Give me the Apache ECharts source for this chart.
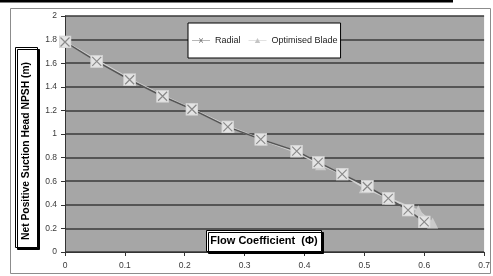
<!DOCTYPE html>
<html><head><meta charset="utf-8">
<script src="https://cdn.jsdelivr.net/npm/echarts@6/dist/echarts.min.js"></script>
<style>html,body{margin:0;padding:0;background:#fff}#c{width:493px;height:276px}</style>
</head><body><div id="c"></div>
<script>
const xTicks = [0, 0.1, 0.2, 0.3, 0.4, 0.5, 0.6, 0.7];
const yTicks = [0, 0.2, 0.4, 0.6, 0.8, 1, 1.2, 1.4, 1.6, 1.8, 2];
const radialX = [0, 0.053, 0.108, 0.163, 0.212, 0.272, 0.327, 0.387, 0.423, 0.463, 0.505, 0.54, 0.573, 0.6];
const radialY = [1.78, 1.615, 1.46, 1.32, 1.21, 1.06, 0.955, 0.855, 0.76, 0.66, 0.555, 0.455, 0.355, 0.255];
const optX = [0, 0.055, 0.11, 0.165, 0.212, 0.275, 0.33, 0.385, 0.427, 0.463, 0.5, 0.543, 0.59, 0.614];
const optY = [1.78, 1.62, 1.46, 1.32, 1.21, 1.06, 0.95, 0.85, 0.74, 0.66, 0.545, 0.45, 0.35, 0.245];
const seriesNames = ['Radial', 'Optimised Blade'];
const xTitle = 'Flow Coefficient  (\u03A6)';
const yTitle = 'Net Positive Suction Head NPSH (m)';

const svg = "<svg xmlns='http://www.w3.org/2000/svg' width='13' height='13'><rect x='0.5' y='0.5' width='12' height='12' fill='#e4e4e4' stroke='#d0d0d0'/><path d='M2,2L11,11M11,2L2,11' stroke='#8a8a8a' stroke-width='1.2'/></svg>";
const xSymbol = 'image://data:image/svg+xml;charset=utf-8,' + encodeURIComponent(svg);

const chart = echarts.init(document.getElementById('c'), null, {renderer: 'canvas'});
const font = 'Arial, "Liberation Sans", sans-serif';
chart.setOption({
  animation: false,
  backgroundColor: '#fff',
  grid: {left: 65, right: 8, top: 16, bottom: 24, show: true, backgroundColor: '#a6a6a6', borderWidth: 0},
  xAxis: {
    type: 'value', min: xTicks[0], max: xTicks[xTicks.length - 1], interval: 0.1,
    axisLine: {show: true, onZero: false, lineStyle: {color: '#333', width: 1}},
    axisTick: {show: true, length: 4, lineStyle: {color: '#333'}},
    axisLabel: {color: '#3a3a3a', fontSize: 8.5, fontFamily: font, margin: 9},
    splitLine: {show: false}
  },
  yAxis: {
    type: 'value', min: yTicks[0], max: yTicks[yTicks.length - 1], interval: 0.2,
    axisLine: {show: true, lineStyle: {color: '#333', width: 1}},
    axisTick: {show: true, length: 4, lineStyle: {color: '#333'}},
    axisLabel: {color: '#3a3a3a', fontSize: 8.5, fontFamily: font, margin: 8},
    splitLine: {show: true, lineStyle: {color: '#3a3a3a', width: 1.5}}
  },
  legend: {
    left: 188, top: 23, orient: 'horizontal',
    backgroundColor: '#fff', borderColor: '#000', borderWidth: 1,
    padding: [13, 3, 13, 4], itemGap: 8, itemWidth: 18, itemHeight: 8,
    textStyle: {fontSize: 9, fontFamily: font, color: '#222'},
    data: [
      {name: seriesNames[0], icon: 'path://M0,4.5L30,4.5L30,5.5L0,5.5Z M11.6,1.6L12.4,0.8L18.4,8.4L17.6,9.2Z M17.6,0.8L18.4,1.6L12.4,9.2L11.6,8.4Z', itemStyle: {color: '#707070'}},
      {name: seriesNames[1], icon: 'path://M0,4.5L30,4.5L30,5.5L0,5.5Z M15,0.5L19.5,8.5L10.5,8.5Z', itemStyle: {color: '#c4c4c4'}}
    ]
  },
  series: [
    {
      name: seriesNames[1], type: 'line', z: 2,
      data: optX.map((x, i) => [x, optY[i]]),
      symbol: 'triangle', symbolSize: 11,
      itemStyle: {color: '#cbcbcb'},
      lineStyle: {color: '#d2d2d2', width: 2}
    },
    {
      name: seriesNames[0], type: 'line', z: 3,
      data: radialX.map((x, i) => [x, radialY[i]]),
      symbol: xSymbol, symbolSize: 13,
      itemStyle: {color: '#8a8a8a'},
      lineStyle: {color: '#555', width: 1.5}
    }
  ],
  graphic: [
    {type: 'rect', shape: {x: 10.5, y: 8.5, width: 480, height: 265}, style: {fill: null, stroke: '#8c8c8c', lineWidth: 1}, z: 0, silent: true},
    {type: 'rect', shape: {x: 0, y: 0, width: 453, height: 2.5}, style: {fill: '#000'}, silent: true},
    {type: 'rect', shape: {x: 15.5, y: 47.5, width: 22, height: 200}, style: {fill: '#fff', stroke: '#000', lineWidth: 1, shadowColor: '#000', shadowOffsetX: 2, shadowOffsetY: 2, shadowBlur: 0}, z: 100},
    {type: 'text', x: 26.5, y: 151, rotation: Math.PI / 2, z: 101,
      style: {text: yTitle, fontSize: 10.3, fontWeight: 'bold', fontFamily: font, fill: '#000', align: 'center', verticalAlign: 'middle'}},
    {type: 'rect', shape: {x: 206.5, y: 230.5, width: 115, height: 21}, style: {fill: '#fff', stroke: '#000', lineWidth: 1, shadowColor: '#000', shadowOffsetX: 2, shadowOffsetY: 2, shadowBlur: 0}, z: 100},
    {type: 'text', x: 264, y: 241, z: 101,
      style: {text: xTitle, fontSize: 11, fontWeight: 'bold', fontFamily: font, fill: '#000', align: 'center', verticalAlign: 'middle'}}
  ]
});
</script></body></html>
